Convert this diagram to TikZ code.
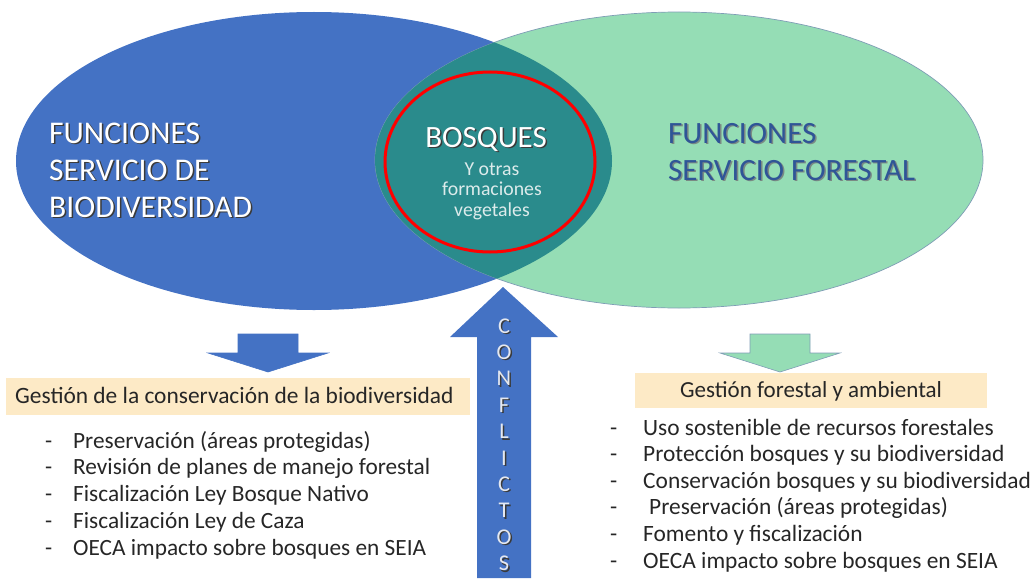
\documentclass[tikz,border=0pt]{standalone}
\usepackage{fontspec}
\setmainfont{Carlito}
\usetikzlibrary{positioning}

\definecolor{biocol}{HTML}{4472C4}
\definecolor{forcol}{HTML}{95DDB5}
\definecolor{forline}{HTML}{7F9DB5}
\definecolor{tealcol}{HTML}{2A8B8C}
\definecolor{forblue}{HTML}{2F5597}
\definecolor{boxcol}{HTML}{FDEAC6}
\definecolor{txtcol}{HTML}{262626}
\definecolor{shgrey}{HTML}{3A3A3A}
\definecolor{shlight}{HTML}{7A8A84}
\definecolor{letcol}{HTML}{E4E8F0}
\definecolor{subcol}{HTML}{DCEBEB}

\newcommand{\shd}[2]{\leavevmode\rlap{\kern1.5pt\raisebox{-1.5pt}{\textcolor{#1}{#2}}}#2}

\begin{document}
\begin{tikzpicture}[x=1pt,y=-1pt,
		title/.style={anchor=base west,inner sep=0pt,font=\fontsize{31.6}{37}\selectfont},
		head/.style={anchor=base west,inner sep=0pt,text=txtcol,font=\fontsize{23.4}{26}\selectfont},
		items/.style={anchor=base west,inner sep=0pt,text=txtcol,font=\fontsize{23.3}{26.8}\selectfont},
		downarrow/.style={line width=0.6pt,line join=miter}]
		\useasboundingbox (0,0) rectangle (1035,578);

		\fill[biocol] (314,161) ellipse [x radius=298,y radius=149];
		\filldraw[fill=forcol,draw=forline,line width=0.7pt] (679,160) ellipse [x radius=304,y radius=148];
		\begin{scope}
			\clip (314,161) ellipse [x radius=298,y radius=149];
			\fill[tealcol] (679,160) ellipse [x radius=304,y radius=148];
		\end{scope}
		\draw[red,line width=3pt] (490,162) ellipse [x radius=105,y radius=90];

		\node [title,text=white] (biotitle) at (49,143) {\begin{tabular}[t]{@{}l@{}}\shd{shgrey}{FUNCIONES}\\ \shd{shgrey}{SERVICIO DE}\\ \shd{shgrey}{BIODIVERSIDAD}\end{tabular}};
		\node [title,text=forblue,font=\fontsize{31}{37}\selectfont] (fortitle) at (668,143) {\begin{tabular}[t]{@{}l@{}}\shd{shlight}{FUNCIONES}\\ \shd{shlight}{SERVICIO FORESTAL}\end{tabular}};
		\node [anchor=base,inner sep=0pt,text=white,font=\fontsize{31}{36}\selectfont] (bosques) at (486,147) {\shd{shgrey}{BOSQUES}};
		\node [anchor=base,inner sep=0pt,text=subcol,font=\fontsize{19.8}{20.5}\selectfont] (otras) at (492,175) {\begin{tabular}[t]{@{}c@{}}Y otras\\ formaciones\\ vegetales\end{tabular}};

		\filldraw[downarrow,fill=biocol,draw=biocol] (238,334) -- (298,334) -- (298,353) -- (328,353) -- (268,372) -- (208,353) -- (238,353) -- cycle;
		\filldraw[downarrow,fill=forcol,draw=forline] (750,334) -- (810,334) -- (810,353) -- (840,353) -- (780,372) -- (720,353) -- (750,353) -- cycle;
		\fill[biocol] (477,578) -- (477,337) -- (450,337) -- (503,287) -- (558,337) -- (531,337) -- (531,578) -- cycle;

		\fill[boxcol] (6,378) rectangle (470,415);
		\fill[boxcol] (635,373) rectangle (987,408);

		\node [head] (gestbio) at (15,403) {Gestión de la conservación de la biodiversidad};
		\node [head,font=\fontsize{23}{26}\selectfont] (gestfor) at (680,397) {Gestión forestal y ambiental};

		\node [items] (listbio) at (45,448) {\begin{tabular}[t]{@{}l@{}}
			\makebox[28pt][l]{-}Preservación (áreas protegidas)\\
			\makebox[28pt][l]{-}Revisión de planes de manejo forestal\\
			\makebox[28pt][l]{-}Fiscalización Ley Bosque Nativo\\
			\makebox[28pt][l]{-}Fiscalización Ley de Caza\\
			\makebox[28pt][l]{-}OECA impacto sobre bosques en SEIA
		\end{tabular}};
		\node [items,font=\fontsize{23.4}{26.6}\selectfont] (listfor) at (610,435) {\begin{tabular}[t]{@{}l@{}}
			\makebox[33pt][l]{-}Uso sostenible de recursos forestales\\
			\makebox[33pt][l]{-}Protección bosques y su biodiversidad\\
			\makebox[33pt][l]{-}Conservación bosques y su biodiversidad\\
			\makebox[33pt][l]{-}\hspace{6pt}Preservación (áreas protegidas)\\
			\makebox[33pt][l]{-}Fomento y fiscalización\\
			\makebox[33pt][l]{-}OECA impacto sobre bosques en SEIA
		\end{tabular}};

		\node [anchor=base,inner sep=0pt,text=letcol,font=\fontsize{22.5}{26.4}\selectfont] (conflictos) at (504,333) {\begin{tabular}[t]{@{}c@{}}
			\shd{shgrey}{C}\\ \shd{shgrey}{O}\\ \shd{shgrey}{N}\\ \shd{shgrey}{F}\\ \shd{shgrey}{L}\\
			\shd{shgrey}{I}\\ \shd{shgrey}{C}\\ \shd{shgrey}{T}\\ \shd{shgrey}{O}\\ \shd{shgrey}{S}
		\end{tabular}};
	\end{tikzpicture}
\end{document}
